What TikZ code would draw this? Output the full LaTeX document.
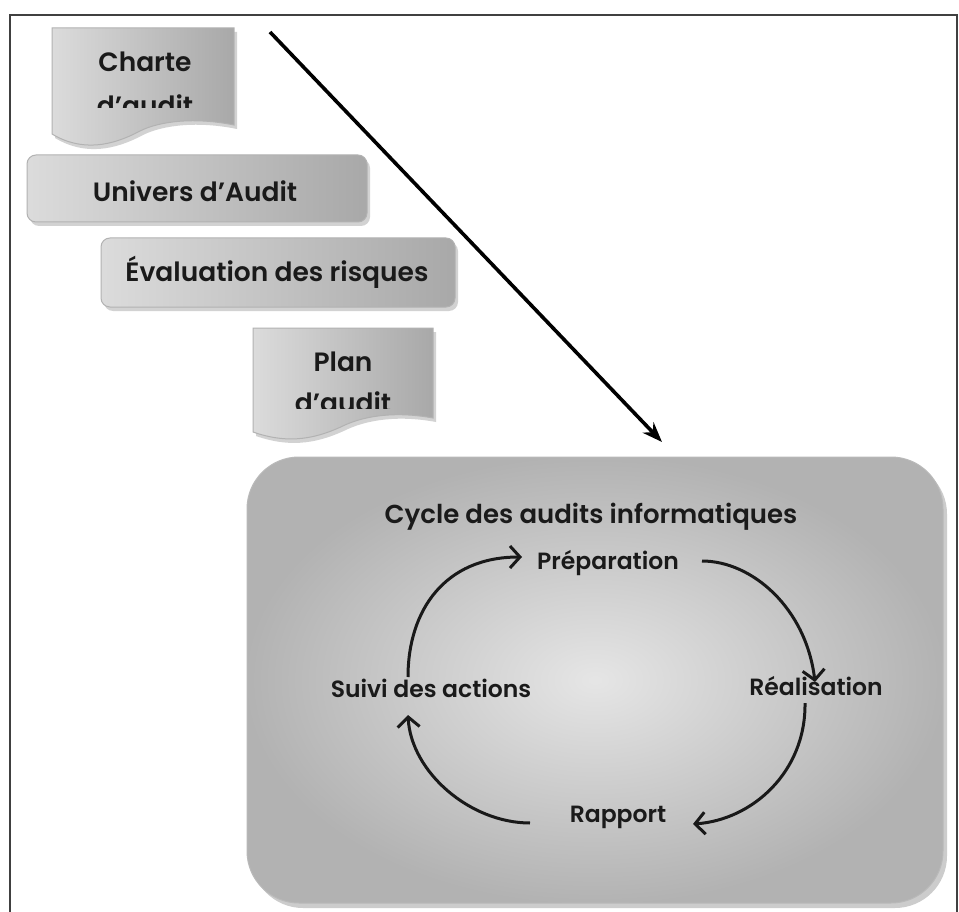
\documentclass[tikz,border=0pt]{standalone}
\usepackage{fontspec}
\setmainfont{Poppins}[UprightFont={* SemiBold}]
\usetikzlibrary{arrows.meta,shadows}
\definecolor{txt}{HTML}{1A1A1A}
\tikzset{
  boxshade/.style={draw=gray!60, line width=1pt, left color=gray!28, middle color=gray!8, right color=gray!68,
    drop shadow={opacity=0.35, shadow xshift=3pt, shadow yshift=-4pt}},
  mbox/.style={boxshade, rounded corners=9pt, inner sep=0pt},
  lbl/.style={text=txt, font=\fontsize{23.5}{28}\selectfont, inner sep=0pt, anchor=center},
  boxlbl/.style={lbl, font=\fontsize{26.5}{31}\selectfont},
  cyc/.style={line width=3pt, black!90, -{Straight Barb[length=10pt, width=22pt]}},
  bigarrow/.style={line width=3.6pt, black, -{Stealth[length=20pt, width=15pt]}},
  frame/.style={line width=2pt, black!75}
}
\begin{document}
\begin{tikzpicture}[x=1pt, y=-1pt]
\useasboundingbox (0,0) rectangle (959,912);
\fill[white] (0,0) rectangle (959,912);
\draw[frame] (10,930) -- (10,15) -- (957,15) -- (957,930);

% big cycle box
\node[draw=gray!55, line width=1pt, rounded corners=52pt, minimum width=696pt, minimum height=446pt,
  inner color=gray!20, outer color=gray!60,
  drop shadow={opacity=0.4, shadow xshift=4pt, shadow yshift=-5pt}] (cycle) at (595,680) {};

% Charte d'audit document
\path[boxshade] (52,28) -- (234,28) -- (234,125) .. controls (195,117) and (160,121) .. (140,131)
  .. controls (112,146) and (82,152) .. (52,134) -- cycle;
\node[boxlbl] (charte) at (145,62) {Charte};
\begin{scope}
  \clip (52,28) rectangle (234,108);
  \node[boxlbl] (charte2) at (145,105) {d'audit};
\end{scope}

% Univers d'Audit
\node[mbox, minimum width=340pt, minimum height=67pt] (univers) at (197,188.5) {};
\node[boxlbl] (universt) at (195,191) {Univers d'Audit};

% Evaluation des risques
\node[mbox, minimum width=354pt, minimum height=69pt] (eval) at (278,272.5) {};
\node[boxlbl] (evalt) at (277,272) {Évaluation des risques};

% Plan d'audit document
\path[boxshade] (253,328) -- (433,328) -- (433,418) .. controls (395,411) and (365,416) .. (345,425)
  .. controls (318,438) and (290,445) .. (253,432) -- cycle;
\node[boxlbl] (plan) at (343,362) {Plan};
\begin{scope}
  \clip (253,328) rectangle (433,408);
  \node[boxlbl] (plan2) at (343,402) {d'audit};
\end{scope}

% big arrow
\coordinate (bstart) at (270,32);
\coordinate (bend) at (662,442);
\draw[bigarrow] (bstart) -- (bend);

% cycle texts
\node[lbl, font=\fontsize{26}{30}\selectfont] (title) at (591,517) {Cycle des audits informatiques};
\node[lbl] (prep) at (608,563) {Préparation};
\node[lbl] (real) at (816,686) {Réalisation};
\node[lbl] (suivi) at (431,688) {Suivi des actions};
\node[lbl] (rapport) at (618,817) {Rapport};

% cycle arrows
\coordinate (a1s) at (408,677);
\coordinate (a1e) at (522,557);
\coordinate (a2s) at (702,561);
\coordinate (a2e) at (815,682);
\coordinate (a3s) at (805,703);
\coordinate (a3e) at (693,824);
\coordinate (a4s) at (530,823);
\coordinate (a4e) at (408,715);
\draw[cyc] (a1s) .. controls (408,610) and (445,557) .. (a1e);
\draw[cyc] (a2s) .. controls (752,561) and (806,608) .. (a2e);
\draw[cyc] (a3s) .. controls (806,772) and (752,820) .. (a3e);
\draw[cyc] (a4s) .. controls (470,823) and (411,772) .. (a4e);
\end{tikzpicture}
\end{document}
